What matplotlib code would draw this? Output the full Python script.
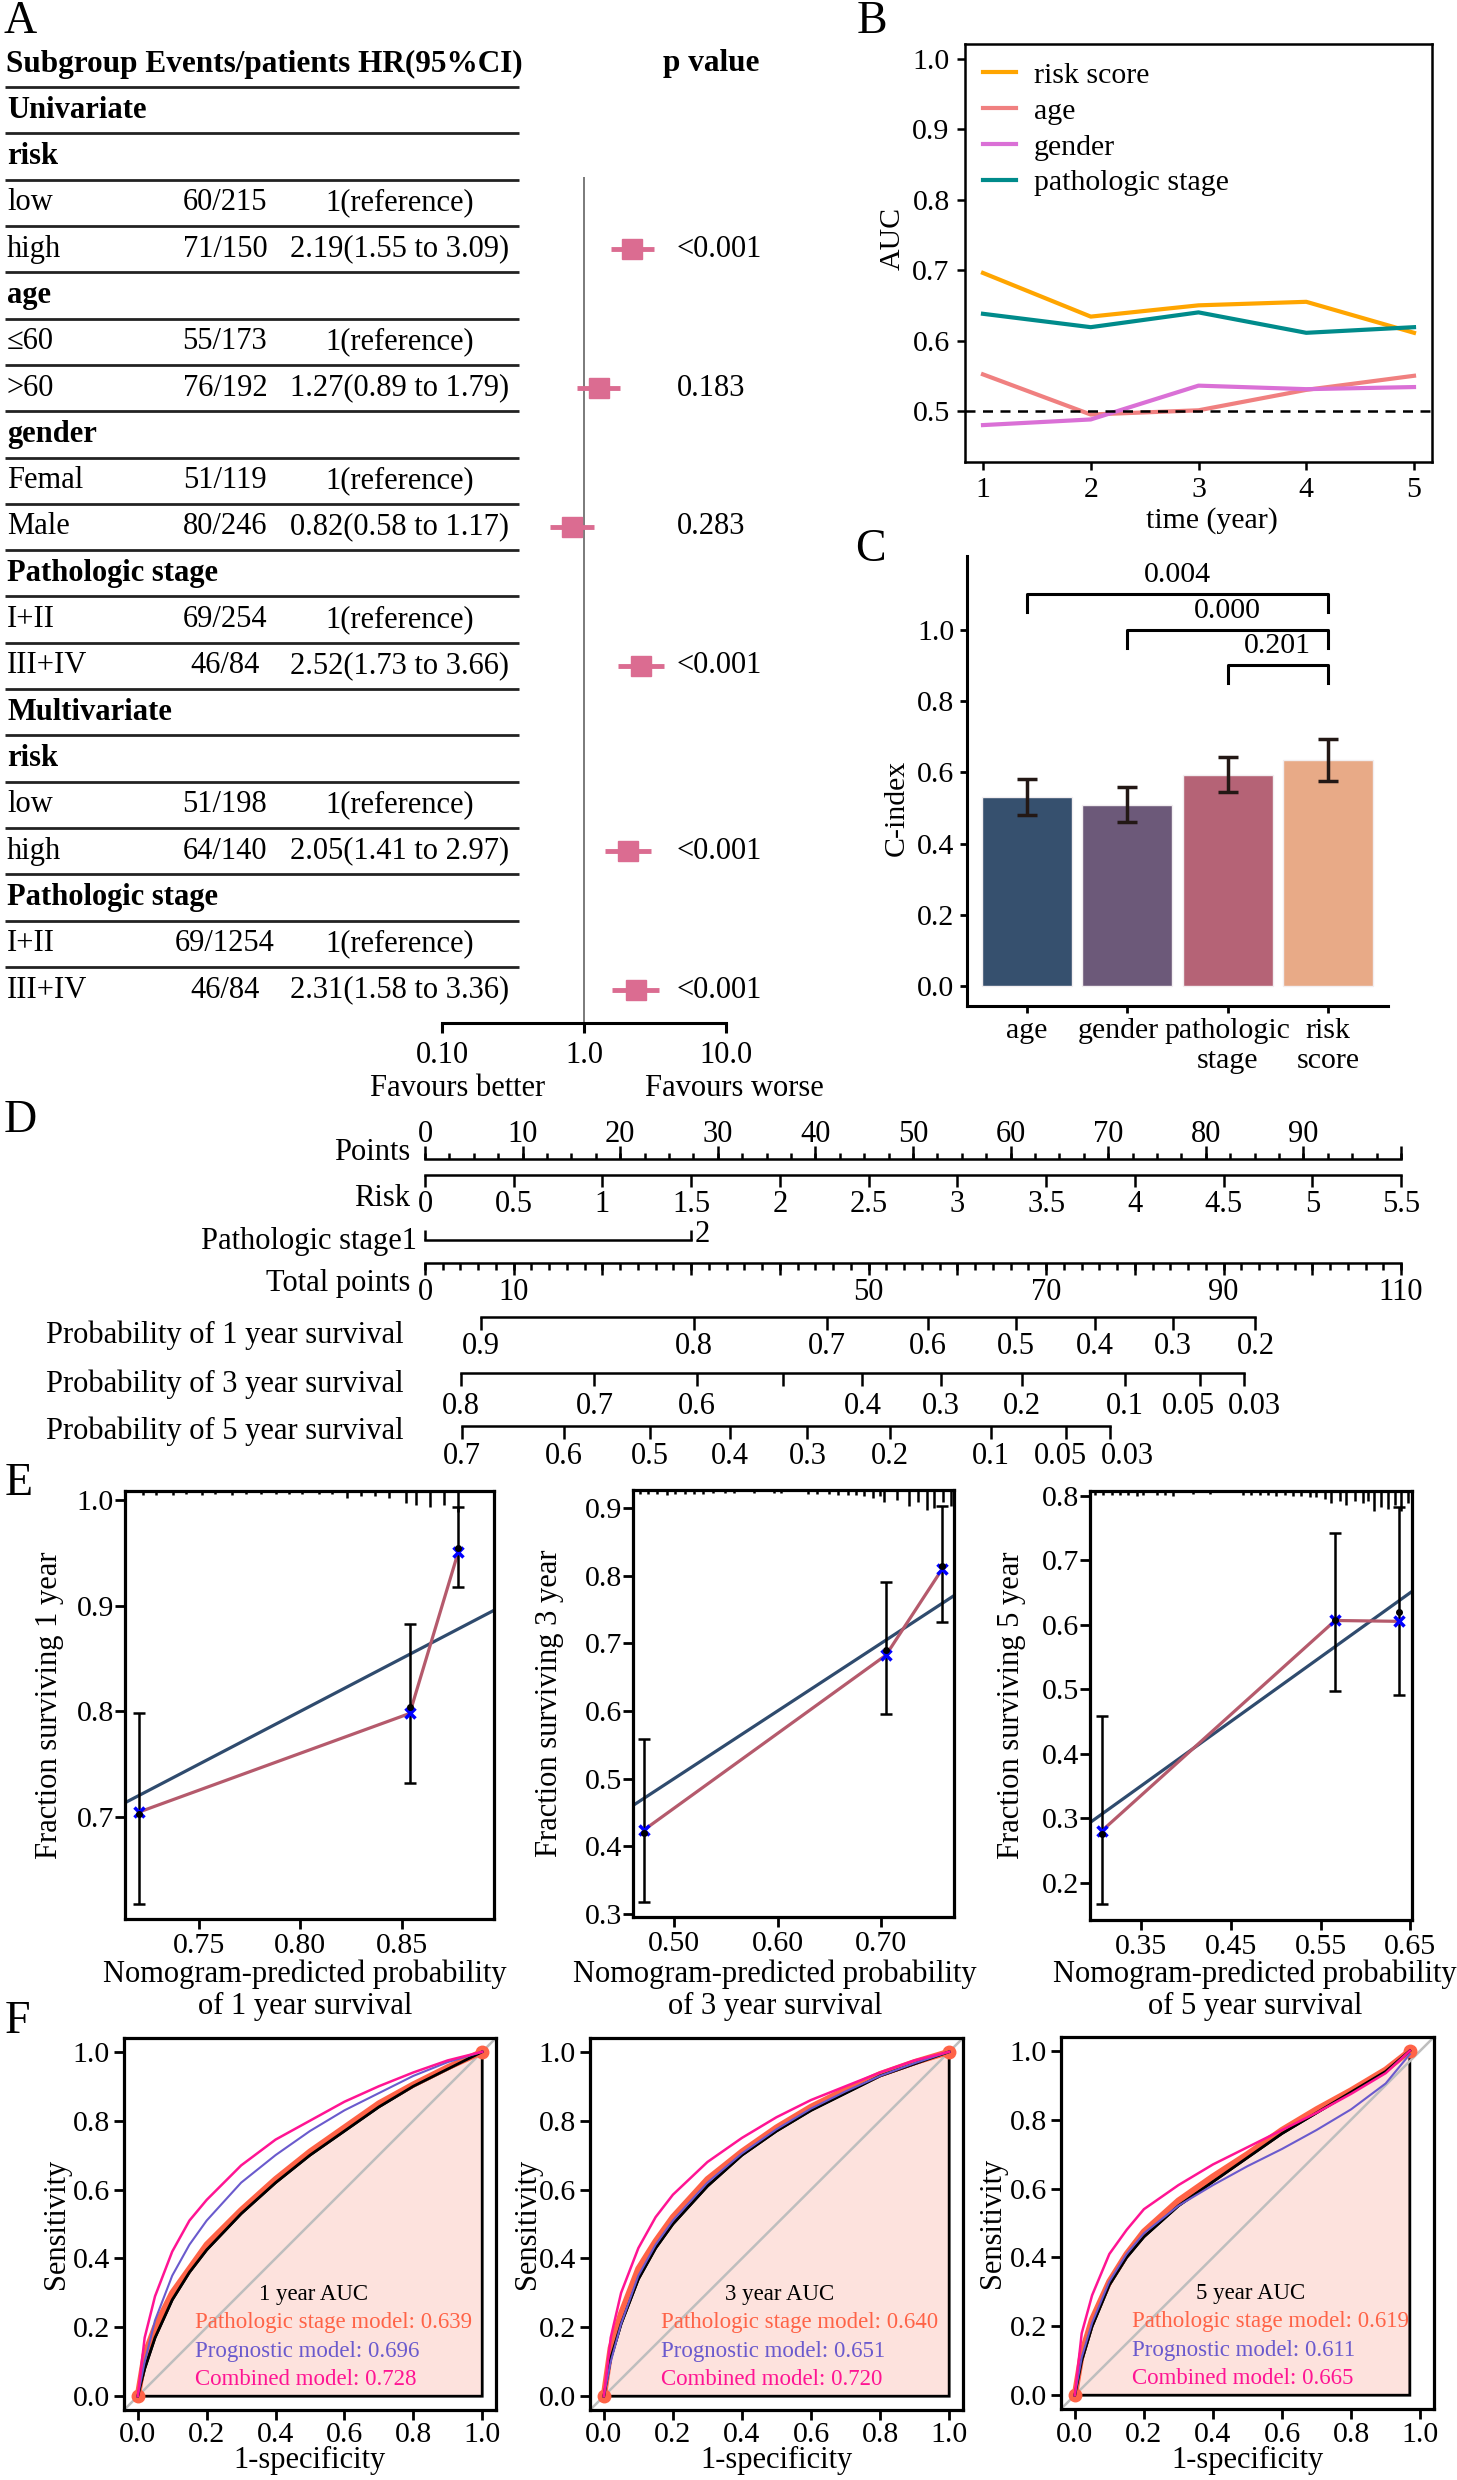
import numpy as np
import matplotlib
matplotlib.use("Agg")
import matplotlib.pyplot as plt
import matplotlib.transforms as mtransforms
from matplotlib.ticker import NullLocator

plt.rcParams['font.family'] = ['Liberation Serif', 'DejaVu Serif']
plt.rcParams['font.size'] = 22

W, H = 1457, 2480

# ---------------- A: forest plot ----------------
subgroups = ["Univariate", "risk", "low", "high", "age", "≤60", ">60", "gender", "Femal", "Male",
             "Pathologic stage", "I+II", "III+IV", "Multivariate", "risk", "low", "high",
             "Pathologic stage", "I+II", "III+IV"]
bold_rows = [True, True, False, False, True, False, False, True, False, False,
             True, False, False, True, True, False, False, True, False, False]
events = ["", "", "60/215", "71/150", "", "55/173", "76/192", "", "51/119", "80/246",
          "", "69/254", "46/84", "", "", "51/198", "64/140", "", "69/1254", "46/84"]
hr_labels = ["", "", "1(reference)", "2.19(1.55 to 3.09)", "", "1(reference)", "1.27(0.89 to 1.79)",
             "", "1(reference)", "0.82(0.58 to 1.17)", "", "1(reference)", "2.52(1.73 to 3.66)",
             "", "", "1(reference)", "2.05(1.41 to 2.97)", "", "1(reference)", "2.31(1.58 to 3.36)"]
nan = np.nan
hr = [nan, nan, nan, 2.19, nan, nan, 1.27, nan, nan, 0.82, nan, nan, 2.52, nan, nan, nan, 2.05, nan, nan, 2.31]
hr_lo = [nan, nan, nan, 1.55, nan, nan, 0.89, nan, nan, 0.58, nan, nan, 1.73, nan, nan, nan, 1.41, nan, nan, 1.58]
hr_hi = [nan, nan, nan, 3.09, nan, nan, 1.79, nan, nan, 1.17, nan, nan, 3.66, nan, nan, nan, 2.97, nan, nan, 3.36]
p_labels = ["", "", "", "<0.001", "", "", "0.183", "", "", "0.283", "", "", "<0.001",
            "", "", "", "<0.001", "", "", "<0.001"]

# ---------------- B: time-dependent AUC ----------------
years = [1, 2, 3, 4, 5]
auc_risk = [0.696, 0.634, 0.650, 0.655, 0.611]
auc_age = [0.552, 0.495, 0.501, 0.530, 0.550]
auc_gender = [0.480, 0.488, 0.536, 0.531, 0.534]
auc_stage = [0.638, 0.619, 0.640, 0.611, 0.619]

# ---------------- C: C-index ----------------
cidx_names = ["age", "gender", "pathologic\nstage", "risk\nscore"]
cidx = [0.531, 0.508, 0.592, 0.634]
cidx_lo = [0.480, 0.462, 0.544, 0.577]
cidx_hi = [0.583, 0.559, 0.643, 0.694]
cmp_pairs = [(0, 3), (1, 3), (2, 3)]
cmp_p = ["0.004", "0.000", "0.201"]
cmp_y = [1.102, 1.0, 0.901]

# ---------------- D: nomogram ----------------
points_max = 100
risk_ticks = [0, 0.5, 1, 1.5, 2, 2.5, 3, 3.5, 4, 4.5, 5, 5.5]
risk_max = 5.5
stage_points = [0, 27.3]
total_max = 110
total_labels = [0, 10, 50, 70, 90, 110]
prob1_labels = ["0.9", "0.8", "0.7", "0.6", "0.5", "0.4", "0.3", "0.2"]
prob1_total = [6.3, 30.3, 45.3, 56.7, 66.6, 75.5, 84.3, 93.6]
prob1_label_at = [6.3, 30.3, 45.3, 56.7, 66.6, 75.5, 84.3, 93.6]
prob3_labels = ["0.8", "0.7", "0.6", "", "0.4", "0.3", "0.2", "0.1", "0.05", "0.03"]
prob3_total = [4.05, 19.1, 30.6, 40.4, 49.3, 58.1, 67.3, 78.9, 87.3, 92.3]
prob3_label_at = [4.05, 19.1, 30.6, 40.4, 49.3, 58.1, 67.3, 78.9, 86.0, 93.5]
prob5_labels = ["0.7", "0.6", "0.5", "0.4", "0.3", "0.2", "0.1", "0.05", "0.03"]
prob5_total = [4.2, 15.7, 25.4, 34.4, 43.1, 52.4, 63.8, 72.3, 77.2]
prob5_label_at = [4.2, 15.7, 25.4, 34.4, 43.1, 52.4, 63.8, 71.6, 79.2]

# ---------------- E: calibration ----------------
e1_pred = [0.7204, 0.854, 0.878]
e1_obs = [0.703, 0.804, 0.955]
e1_corr = [0.7047, 0.798, 0.951]
e1_lo = [0.618, 0.732, 0.918]
e1_hi = [0.798, 0.883, 0.993]
e1_rug = [0.7225, 0.729, 0.737, 0.7435, 0.7517, 0.758, 0.7665, 0.7731, 0.7805, 0.788, 0.7945,
          0.801, 0.809, 0.8157, 0.823, 0.830, 0.837, 0.844, 0.852, 0.857, 0.864, 0.871, 0.878]
e1_rug_len = [4, 4, 4, 3, 4, 3, 4, 3, 3, 3, 3, 3, 3, 3, 7, 5, 5, 7, 12, 14, 16, 14, 21]

e2_pred = [0.4715, 0.7048, 0.759]
e2_obs = [0.420, 0.690, 0.814]
e2_corr = [0.4248, 0.6826, 0.8096]
e2_lo = [0.318, 0.595, 0.731]
e2_hi = [0.558, 0.790, 0.903]
e2_rug = [0.467, 0.475, 0.4835, 0.4932, 0.501, 0.511, 0.519, 0.528, 0.538, 0.549, 0.5575, 0.577,
          0.597, 0.603, 0.629, 0.638, 0.650, 0.658, 0.668, 0.676, 0.684, 0.692, 0.699, 0.703,
          0.715, 0.727, 0.736, 0.744, 0.751, 0.760, 0.768]
e2_rug_len = [4, 4, 4, 5, 4, 4, 4, 4, 3, 3, 3, 3, 3, 3, 4, 4, 4, 5, 5, 5, 6, 8, 6, 12,
              10, 16, 12, 20, 18, 12, 16]

e3_pred = [0.3065, 0.5663, 0.6377]
e3_obs = [0.276, 0.607, 0.620]
e3_corr = [0.2806, 0.6068, 0.6055]
e3_lo = [0.167, 0.497, 0.491]
e3_hi = [0.459, 0.742, 0.783]
e3_rug = [0.2987, 0.3079, 0.3172, 0.3264, 0.3357, 0.345, 0.3525, 0.3673, 0.3766, 0.3858, 0.408,
          0.4266, 0.4637, 0.473, 0.4822, 0.4915, 0.5008, 0.51, 0.5193, 0.5286, 0.5378, 0.5453,
          0.5545, 0.562, 0.5712, 0.5786, 0.5879, 0.5972, 0.6027, 0.6101, 0.6176, 0.625, 0.6324,
          0.6398, 0.6473]
e3_rug_len = [4, 4, 4, 4, 4, 5, 4, 4, 4, 5, 3, 3, 4, 4, 4, 4, 5, 4, 5, 5, 6, 6,
              8, 12, 10, 14, 10, 12, 10, 20, 16, 18, 14, 20, 12]

# ---------------- F: ROC ----------------
f1_fpr = [0, 0.02, 0.05, 0.1, 0.15, 0.2, 0.3, 0.4, 0.5, 0.6, 0.7, 0.8, 0.9, 1.0]
f1_black = [0, 0.08, 0.17, 0.28, 0.36, 0.425, 0.53, 0.62, 0.70, 0.77, 0.84, 0.90, 0.95, 1.0]
f1_stage = [0, 0.12, 0.20, 0.30, 0.37, 0.44, 0.54, 0.63, 0.71, 0.78, 0.85, 0.905, 0.955, 1.0]
f1_prog = [0, 0.10, 0.22, 0.35, 0.44, 0.51, 0.62, 0.70, 0.77, 0.83, 0.88, 0.93, 0.97, 1.0]
f1_comb = [0, 0.17, 0.29, 0.42, 0.51, 0.57, 0.67, 0.745, 0.80, 0.855, 0.90, 0.94, 0.975, 1.0]
f1_auc = ["0.639", "0.696", "0.728"]

f2_fpr = [0, 0.02, 0.05, 0.1, 0.15, 0.2, 0.3, 0.4, 0.5, 0.6, 0.7, 0.8, 0.9, 1.0]
f2_black = [0, 0.11, 0.21, 0.34, 0.43, 0.50, 0.61, 0.70, 0.77, 0.83, 0.88, 0.93, 0.965, 1.0]
f2_stage = [0, 0.14, 0.24, 0.37, 0.45, 0.52, 0.63, 0.71, 0.78, 0.84, 0.89, 0.935, 0.97, 1.0]
f2_prog = [0, 0.10, 0.21, 0.35, 0.44, 0.51, 0.62, 0.705, 0.775, 0.835, 0.885, 0.93, 0.967, 1.0]
f2_comb = [0, 0.17, 0.30, 0.43, 0.52, 0.585, 0.68, 0.75, 0.81, 0.86, 0.90, 0.94, 0.975, 1.0]
f2_auc = ["0.640", "0.651", "0.720"]

f3_fpr = [0, 0.02, 0.05, 0.1, 0.15, 0.2, 0.3, 0.4, 0.5, 0.6, 0.7, 0.8, 0.9, 0.97]
f3_black = [0, 0.10, 0.20, 0.32, 0.40, 0.46, 0.55, 0.62, 0.69, 0.76, 0.82, 0.88, 0.94, 1.0]
f3_stage = [0, 0.12, 0.22, 0.33, 0.41, 0.475, 0.565, 0.635, 0.70, 0.77, 0.83, 0.885, 0.945, 1.0]
f3_prog = [0, 0.11, 0.21, 0.33, 0.41, 0.47, 0.55, 0.61, 0.665, 0.715, 0.77, 0.83, 0.905, 0.99]
f3_comb = [0, 0.18, 0.29, 0.41, 0.48, 0.54, 0.61, 0.67, 0.72, 0.77, 0.82, 0.875, 0.935, 1.0]
f3_auc = ["0.619", "0.611", "0.665"]

PINK = '#DB6C91'

fig = plt.figure(figsize=(W / 100, H / 100), dpi=100)


def px_axes(x0, y0, x1, y1):
    return fig.add_axes([x0 / W, 1 - y1 / H, (x1 - x0) / W, (y1 - y0) / H])


def ftext(x, y, s, **kw):
    return fig.text(x / W, 1 - y / H, s, **kw)


# panel letters
for lab, x, y in [("A", 20, 22), ("B", 872, 22), ("C", 870, 550), ("D", 20, 1121),
                  ("E", 19, 1484), ("F", 17, 2022)]:
    ftext(x, y, lab, fontsize=33, ha='center', va='center')

# ---------------- A ----------------
ROW0, ROWH = 64, 46.3


def row_of(py):
    return (py - ROW0) / ROWH


ax_tab = px_axes(0, 30, 800, 1010)
ax_tab.set_xlim(0, 800)
ax_tab.set_ylim(row_of(1010), row_of(30))
ax_tab.axis('off')
ax_tab.text(6, 0, "Subgroup Events/patients HR(95%CI)", fontweight='bold', ha='left', va='center',
            fontsize=22.5)
ax_tab.text(711, 0, "p value", fontweight='bold', ha='center', va='center', fontsize=22.5)
for i, name in enumerate(subgroups):
    r = i + 1
    ax_tab.text(7, r, name, ha='left', va='center',
                fontweight='bold' if bold_rows[i] else 'normal')
    if events[i]:
        ax_tab.text(225, r, events[i], ha='center', va='center')
    if hr_labels[i]:
        ax_tab.text(400, r, hr_labels[i], ha='center', va='center')
    if p_labels[i]:
        ax_tab.text(677, r, p_labels[i], ha='left', va='center')
ax_tab.hlines(np.arange(len(subgroups)) + 0.5, 5, 519, color='#222222', lw=2)

ax_f = px_axes(442, 177, 726, 1023)
ax_f.set_xscale('log')
ax_f.set_xlim(0.1, 10)
ax_f.set_ylim(row_of(1023), row_of(177))
ax_f.patch.set_visible(False)
for s in ['top', 'left', 'right']:
    ax_f.spines[s].set_visible(False)
ax_f.spines['bottom'].set_linewidth(2.2)
ax_f.set_xticks([0.1, 1, 10])
ax_f.set_xticklabels(["0.10", "1.0", "10.0"])
ax_f.xaxis.set_minor_locator(NullLocator())
ax_f.set_yticks([])
ax_f.tick_params(axis='x', length=7, width=2.2, pad=6, labelsize=22)
ax_f.axvline(1, color='#7a7a7a', lw=1.4)
rows = np.arange(1, len(subgroups) + 1)
mask = ~np.isnan(np.array(hr))
ax_f.hlines(rows[mask], np.array(hr_lo)[mask], np.array(hr_hi)[mask], color=PINK, lw=3.5)
ax_f.plot(np.array(hr)[mask], rows[mask], 's', color=PINK, ms=14)
ax_f.text(0.056, -0.077, "Favours better", transform=ax_f.transAxes, ha='center', va='center')
ax_f.text(1.028, -0.077, "Favours worse", transform=ax_f.transAxes, ha='center', va='center')

# ---------------- B ----------------
axb = px_axes(965, 44, 1432, 462)
axb.plot(years, auc_risk, color='#FFA500', lw=3, label='risk score')
axb.plot(years, auc_age, color='#F08080', lw=3, label='age')
axb.plot(years, auc_gender, color='#DA70D6', lw=3, label='gender')
axb.plot(years, auc_stage, color='#008B8B', lw=3, label='pathologic stage')
axb.axhline(0.5, color='black', lw=1.8, ls=(0, (4, 3)))
axb.set_xlim(0.833, 5.167)
axb.set_ylim(0.4276, 1.021)
axb.set_xticks(years)
axb.set_yticks([0.5, 0.6, 0.7, 0.8, 0.9, 1.0])
axb.set_yticklabels(["0.5", "0.6", "0.7", "0.8", "0.9", "1.0"])
for s in axb.spines.values():
    s.set_linewidth(1.8)
axb.tick_params(length=6, width=1.8, labelsize=21.5)
axb.tick_params(axis='x', pad=5)
axb.tick_params(axis='y', pad=5)
axb.legend(frameon=False, loc='upper left', handlelength=1.1, handletextpad=0.6,
           labelspacing=0.3, borderaxespad=0.5, borderpad=0.1, fontsize=21.5)
ftext(893, 238, "AUC", rotation=90, ha='center', va='center', fontsize=21.5)
ftext(1212, 521, "time (year)", ha='center', va='center', fontsize=21.5)

# ---------------- C ----------------
axc = px_axes(967, 556, 1388, 1006)
xc = np.arange(len(cidx))
axc.bar(xc, cidx, width=0.9, color=['#36506E', '#6C5979', '#B56376', '#E8AA87'],
        edgecolor='#f2eef0', lw=1)
cl = np.array(cidx)
axc.errorbar(xc, cl, yerr=[cl - np.array(cidx_lo), np.array(cidx_hi) - cl], fmt='none',
             ecolor='#231815', elinewidth=2.5, capsize=7, capthick=2.5)
for (a, b), p, yb in zip(cmp_pairs, cmp_p, cmp_y):
    axc.plot([a, a, b, b], [yb - 0.05, yb, yb, yb - 0.05], color='black', lw=2.2)
    axc.text((a + b) / 2, yb + 0.053, p, ha='center', va='center', fontsize=21.5)
axc.set_xlim(-0.6, 3.6)
axc.set_ylim(-0.056, 1.208)
axc.set_xticks(xc)
axc.set_xticklabels(cidx_names)
axc.set_yticks([0, 0.2, 0.4, 0.6, 0.8, 1.0])
axc.set_yticklabels(["0.0", "0.2", "0.4", "0.6", "0.8", "1.0"])
for s in ['top', 'right']:
    axc.spines[s].set_visible(False)
for s in ['left', 'bottom']:
    axc.spines[s].set_linewidth(2.2)
axc.tick_params(length=5, width=2, labelsize=21.5, pad=4)
# nudge "gender" a little left, as in the original, so it does not touch "pathologic"
glab = axc.get_xticklabels()[1]
glab.set_transform(glab.get_transform() + mtransforms.ScaledTranslation(-0.09, 0, fig.dpi_scale_trans))
ftext(897, 808, "C-index", rotation=90, ha='center', va='center', fontsize=21.5)

# ---------------- D ----------------
axd = px_axes(0, 1095, W, 1475)
PX0, PXU = 425, 9.76
axd.set_xlim((0 - PX0) / PXU, (W - PX0) / PXU)
axd.set_ylim(1475, 1095)
axd.axis('off')


def lx(px):
    return (px - PX0) / PXU


LW = 1.8
# Points
yp = 1159
axd.plot([0, points_max], [yp, yp], color='k', lw=LW)
axd.vlines(np.arange(0, points_max + 0.1, 2.5), yp - 6, yp, color='k', lw=LW)
axd.vlines(np.arange(0, points_max + 0.1, 10), yp - 13, yp, color='k', lw=LW)
for v in range(0, 100, 10):
    axd.text(v, 1135, str(v), ha='center', va='center')
axd.text(lx(410), 1152, "Points", ha='right', va='center')
# Risk
yr = 1175
risk_pts = np.array(risk_ticks) * points_max / risk_max
axd.plot([risk_pts[0], risk_pts[-1]], [yr, yr], color='k', lw=LW)
axd.vlines(risk_pts, yr, yr + 12, color='k', lw=LW)
for v, p in zip(risk_ticks, risk_pts):
    axd.text(p, 1205, f"{v:g}", ha='center', va='center')
axd.text(lx(410), 1199, "Risk", ha='right', va='center')
# Pathologic stage
ys = 1240
axd.plot(stage_points, [ys, ys], color='k', lw=LW)
axd.vlines(stage_points, ys - 10, ys, color='k', lw=LW)
axd.text(lx(417), 1242, "Pathologic stage1", ha='right', va='center')
axd.text(stage_points[1] + 0.3, 1235, "2", ha='left', va='center')
# Total points
yt = 1263
tscale = points_max / total_max
axd.plot([0, total_max * tscale], [yt, yt], color='k', lw=LW)
axd.vlines(np.arange(0, total_max + 0.1, 2) * tscale, yt, yt + 7, color='k', lw=LW)
axd.vlines(np.arange(0, total_max + 0.1, 10) * tscale, yt, yt + 12, color='k', lw=LW)
for v in total_labels:
    axd.text(v * tscale, 1293, str(v), ha='center', va='center')
axd.text(lx(410), 1284, "Total points", ha='right', va='center')
# probability scales
for name, yl, labels, tot, lab_at, ylab, ytxt in [
        ("Probability of 1 year survival", 1317, prob1_labels, prob1_total, prob1_label_at, 1346, 1335),
        ("Probability of 3 year survival", 1373, prob3_labels, prob3_total, prob3_label_at, 1406, 1384),
        ("Probability of 5 year survival", 1426, prob5_labels, prob5_total, prob5_label_at, 1456, 1431)]:
    pp = np.array(tot) * tscale
    axd.plot([pp[0], pp[-1]], [yl, yl], color='k', lw=LW)
    axd.vlines(pp, yl, yl + 13, color='k', lw=LW)
    for lab, p in zip(labels, np.array(lab_at) * tscale):
        axd.text(p, ylab, lab, ha='center', va='center')
    axd.text(lx(46), ytxt, name, ha='left', va='center')


# ---------------- E ----------------
def calib_panel(box, xlim, ylim, xticks, xticklabels, yticks, pred, obs, corr, lo, hi,
                rug, rug_len, year, ylab_x, xlab_x):
    ax = px_axes(*box)
    hpx = box[3] - box[1]
    ax.plot(xlim, xlim, color='#2F4B6E', lw=2.3)
    ax.plot(pred, corr, color='#B55A6C', lw=2.3)
    o = np.array(obs)
    ax.errorbar(pred, o, yerr=[o - np.array(lo), np.array(hi) - o], fmt='o', color='black',
                ms=4, elinewidth=1.8, capsize=4, capthick=1.8)
    ax.plot(pred, corr, 'x', color='blue', ms=7, mew=2.5)
    trans = mtransforms.blended_transform_factory(ax.transData, ax.transAxes)
    ax.vlines(rug, 1 - np.array(rug_len) / hpx, 1, transform=trans, color='black', lw=1.8)
    ax.set_xlim(xlim)
    ax.set_ylim(ylim)
    ax.set_xticks(xticks)
    ax.set_xticklabels(xticklabels)
    ax.set_yticks(yticks)
    ax.set_yticklabels([f"{v:.1f}" for v in yticks])
    for s in ax.spines.values():
        s.set_linewidth(2.3)
    ax.tick_params(length=7, width=2, labelsize=21.5)
    ax.tick_params(axis='x', pad=3)
    ax.tick_params(axis='y', pad=1)
    ftext(ylab_x, (box[1] + box[3]) / 2, f"Fraction surviving {year} year", rotation=90,
          ha='center', va='center', fontsize=22)
    ftext(xlab_x, 1990, f"Nomogram-predicted probability\nof {year} year survival",
          ha='center', va='center', fontsize=22, linespacing=1.15)


calib_panel((125, 1491, 494, 1919), (0.7135, 0.8956), (0.6035, 1.0085),
            [0.75, 0.80, 0.85], ["0.75", "0.80", "0.85"], [0.7, 0.8, 0.9, 1.0],
            e1_pred, e1_obs, e1_corr, e1_lo, e1_hi, e1_rug, e1_rug_len, 1, 50, 305)
calib_panel((633, 1490, 954, 1917), (0.4604, 0.7705), (0.2956, 0.9266),
            [0.5, 0.6, 0.7], ["0.50", "0.60", "0.70"], [0.3, 0.4, 0.5, 0.6, 0.7, 0.8, 0.9],
            e2_pred, e2_obs, e2_corr, e2_lo, e2_hi, e2_rug, e2_rug_len, 3, 550, 775)
calib_panel((1090, 1491, 1412, 1920), (0.2931, 0.6519), (0.1419, 0.8078),
            [0.35, 0.45, 0.55, 0.65], ["0.35", "0.45", "0.55", "0.65"],
            [0.2, 0.3, 0.4, 0.5, 0.6, 0.7, 0.8],
            e3_pred, e3_obs, e3_corr, e3_lo, e3_hi, e3_rug, e3_rug_len, 5, 1012, 1255)


# ---------------- F ----------------
def roc_panel(box, fpr, tb, ts, tp, tc, aucs, year, ylab_x):
    ax = px_axes(*box)
    xs = list(fpr) + [fpr[-1], fpr[0]]
    ys = list(tb) + [0, 0]
    ax.fill(xs, ys, facecolor='#FDE2DD', edgecolor='black', lw=2)
    ax.plot([-0.04, 1.04], [-0.04, 1.04], color='#BEBEBE', lw=1.8)
    ax.plot(fpr, ts, color='#FF6347', lw=4.5, solid_capstyle='round')
    ax.plot([fpr[0], fpr[-1]], [ts[0], ts[-1]], 'o', color='#FF6347', ms=9)
    ax.plot(fpr, tb, color='black', lw=2)
    ax.plot(fpr, tp, color='#6A5ACD', lw=1.5)
    ax.plot(fpr, tc, color='#FF1493', lw=1.8)
    ax.text(0.51, 0.295, f"{year} year AUC", ha='center', va='center', fontsize=16.5)
    ax.text(0.165, 0.213, f"Pathologic stage model: {aucs[0]}", color='#FF6347',
            ha='left', va='center', fontsize=16.5)
    ax.text(0.165, 0.131, f"Prognostic model: {aucs[1]}", color='#6A5ACD',
            ha='left', va='center', fontsize=16.5)
    ax.text(0.165, 0.049, f"Combined model: {aucs[2]}", color='#FF1493',
            ha='left', va='center', fontsize=16.5)
    ax.set_xlim(-0.04, 1.04)
    ax.set_ylim(-0.04, 1.04)
    ticks = [0, 0.2, 0.4, 0.6, 0.8, 1.0]
    ax.set_xticks(ticks)
    ax.set_yticks(ticks)
    ax.set_xticklabels([f"{v:.1f}" for v in ticks])
    ax.set_yticklabels([f"{v:.1f}" for v in ticks])
    for s in ax.spines.values():
        s.set_linewidth(2.3)
    ax.tick_params(length=7, width=2, labelsize=21.5)
    ax.tick_params(axis='x', pad=2)
    ax.tick_params(axis='y', pad=3)
    ftext(ylab_x, (box[1] + box[3]) / 2, "Sensitivity", rotation=90, ha='center', va='center',
          fontsize=22)
    ftext((box[0] + box[2]) / 2, 2460, "1-specificity", ha='center', va='center', fontsize=22)


roc_panel((124, 2038, 496, 2410), f1_fpr, f1_black, f1_stage, f1_prog, f1_comb, f1_auc, 1, 57)
roc_panel((590, 2038, 963, 2410), f2_fpr, f2_black, f2_stage, f2_prog, f2_comb, f2_auc, 3, 527)
roc_panel((1061, 2037, 1434, 2409), f3_fpr, f3_black, f3_stage, f3_prog, f3_comb, f3_auc, 5, 993)

fig.savefig("out.png", dpi=100)
